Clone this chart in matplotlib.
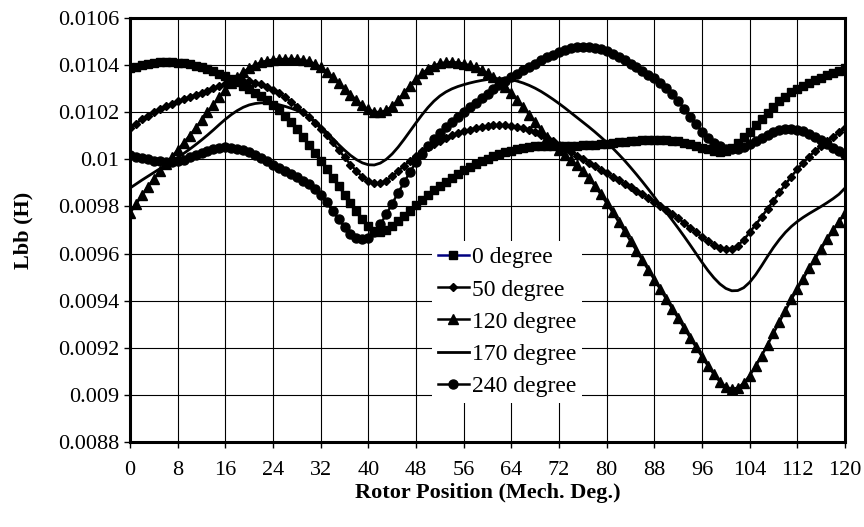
import numpy as np
import matplotlib.pyplot as plt

plt.rcParams['font.family'] = ['Liberation Serif', 'DejaVu Serif']

# rotor position, mechanical degrees (one sample per degree)
rotor_pos = list(range(0, 121))

# Lbb inductance in mH
lbb_0deg = [
    10.386, 10.393, 10.399, 10.405, 10.409, 10.412, 10.413, 10.413, 10.411, 10.408,
    10.403, 10.397, 10.390, 10.382, 10.373, 10.363, 10.352, 10.340, 10.327, 10.313,
    10.298, 10.283, 10.267, 10.250, 10.232, 10.210, 10.185, 10.157, 10.127, 10.096,
    10.063, 10.029, 9.994, 9.958, 9.922, 9.886, 9.850, 9.815, 9.780, 9.748,
    9.718, 9.696, 9.690, 9.700, 9.718, 9.738, 9.760, 9.782, 9.805, 9.827,
    9.848, 9.868, 9.887, 9.905, 9.922, 9.938, 9.953, 9.967, 9.980, 9.992,
    10.003, 10.013, 10.022, 10.030, 10.037, 10.043, 10.048, 10.052, 10.055, 10.057,
    10.058, 10.058, 10.058, 10.058, 10.058, 10.058, 10.059, 10.060, 10.062, 10.064,
    10.066, 10.069, 10.072, 10.075, 10.078, 10.080, 10.082, 10.083, 10.084, 10.084,
    10.083, 10.080, 10.076, 10.071, 10.065, 10.058, 10.050, 10.042, 10.036, 10.033,
    10.035, 10.050, 10.070, 10.093, 10.118, 10.145, 10.172, 10.198, 10.223, 10.246,
    10.266, 10.284, 10.300, 10.313, 10.325, 10.336, 10.346, 10.356, 10.366, 10.376,
    10.386]

lbb_50deg = [
    10.133, 10.152, 10.170, 10.186, 10.200, 10.213, 10.225, 10.236, 10.246, 10.256,
    10.265, 10.274, 10.283, 10.292, 10.301, 10.310, 10.318, 10.325, 10.330, 10.332,
    10.331, 10.326, 10.318, 10.308, 10.296, 10.281, 10.264, 10.245, 10.224, 10.201,
    10.180, 10.156, 10.130, 10.102, 10.072, 10.041, 10.009, 9.978, 9.950, 9.925,
    9.906, 9.898, 9.899, 9.910, 9.928, 9.950, 9.973, 9.995, 10.016, 10.035,
    10.052, 10.067, 10.080, 10.092, 10.102, 10.111, 10.119, 10.126, 10.132, 10.137,
    10.141, 10.144, 10.145, 10.145, 10.143, 10.139, 10.133, 10.125, 10.115, 10.103,
    10.090, 10.076, 10.061, 10.046, 10.031, 10.016, 10.001, 9.986, 9.971, 9.956,
    9.941, 9.926, 9.911, 9.896, 9.881, 9.866, 9.851, 9.836, 9.820, 9.804,
    9.787, 9.769, 9.750, 9.730, 9.710, 9.690, 9.670, 9.652, 9.637, 9.625,
    9.618, 9.620, 9.634, 9.658, 9.690, 9.722, 9.756, 9.790, 9.825, 9.860,
    9.894, 9.927, 9.958, 9.986, 10.012, 10.035, 10.056, 10.076, 10.095, 10.114,
    10.133]

lbb_120deg = [
    9.772, 9.810, 9.848, 9.884, 9.918, 9.950, 9.980, 10.010, 10.040, 10.070,
    10.101, 10.133, 10.166, 10.199, 10.232, 10.264, 10.295, 10.323, 10.348, 10.370,
    10.388, 10.402, 10.412, 10.419, 10.423, 10.425, 10.426, 10.426, 10.425, 10.422,
    10.416, 10.406, 10.391, 10.372, 10.350, 10.326, 10.300, 10.275, 10.251, 10.229,
    10.212, 10.202, 10.200, 10.208, 10.226, 10.252, 10.282, 10.313, 10.341, 10.365,
    10.384, 10.398, 10.407, 10.412, 10.413, 10.411, 10.406, 10.399, 10.390, 10.379,
    10.366, 10.350, 10.331, 10.308, 10.282, 10.253, 10.222, 10.190, 10.158, 10.126,
    10.095, 10.066, 10.040, 10.017, 9.996, 9.975, 9.950, 9.921, 9.888, 9.852,
    9.814, 9.775, 9.735, 9.694, 9.653, 9.612, 9.571, 9.530, 9.489, 9.448,
    9.407, 9.366, 9.325, 9.284, 9.243, 9.202, 9.162, 9.123, 9.087, 9.056,
    9.034, 9.025, 9.030, 9.050, 9.082, 9.122, 9.166, 9.212, 9.262, 9.310,
    9.358, 9.405, 9.450, 9.494, 9.537, 9.579, 9.620, 9.660, 9.699, 9.736,
    9.772]

lbb_170deg = [
    9.878, 9.895, 9.912, 9.928, 9.944, 9.960, 9.976, 9.992, 10.008, 10.025,
    10.043, 10.062, 10.082, 10.103, 10.125, 10.148, 10.170, 10.190, 10.207, 10.221,
    10.231, 10.237, 10.240, 10.240, 10.237, 10.232, 10.225, 10.217, 10.208, 10.197,
    10.182, 10.163, 10.140, 10.115, 10.089, 10.063, 10.039, 10.017, 9.999, 9.985,
    9.977, 9.976, 9.984, 10.000, 10.023, 10.052, 10.085, 10.120, 10.155, 10.189,
    10.220, 10.247, 10.269, 10.286, 10.299, 10.309, 10.317, 10.324, 10.330, 10.335,
    10.339, 10.342, 10.343, 10.342, 10.338, 10.332, 10.324, 10.314, 10.302, 10.288,
    10.272, 10.255, 10.237, 10.218, 10.198, 10.178, 10.158, 10.138, 10.117, 10.095,
    10.072, 10.048, 10.022, 9.995, 9.966, 9.936, 9.905, 9.873, 9.840, 9.806,
    9.775, 9.742, 9.708, 9.673, 9.637, 9.600, 9.563, 9.528, 9.497, 9.471,
    9.452, 9.442, 9.443, 9.455, 9.478, 9.510, 9.548, 9.588, 9.626, 9.660,
    9.690, 9.715, 9.736, 9.754, 9.770, 9.785, 9.800, 9.816, 9.833, 9.852,
    9.878]

lbb_240deg = [
    10.018, 10.012, 10.006, 10.000, 9.995, 9.992, 9.990, 9.990, 9.993, 9.999,
    10.008, 10.018, 10.028, 10.037, 10.044, 10.049, 10.051, 10.050, 10.046, 10.039,
    10.030, 10.019, 10.006, 9.992, 9.978, 9.964, 9.950, 9.937, 9.924, 9.910,
    9.894, 9.874, 9.848, 9.817, 9.782, 9.746, 9.712, 9.684, 9.666, 9.660,
    9.668, 9.690, 9.724, 9.766, 9.812, 9.858, 9.902, 9.947, 9.988, 10.024,
    10.057, 10.086, 10.112, 10.136, 10.158, 10.180, 10.201, 10.221, 10.241, 10.260,
    10.279, 10.298, 10.316, 10.333, 10.349, 10.364, 10.378, 10.392, 10.405, 10.420,
    10.433, 10.445, 10.456, 10.465, 10.472, 10.477, 10.479, 10.478, 10.474, 10.467,
    10.458, 10.447, 10.434, 10.420, 10.405, 10.390, 10.375, 10.360, 10.344, 10.326,
    10.304, 10.278, 10.248, 10.215, 10.181, 10.148, 10.118, 10.092, 10.071, 10.055,
    10.045, 10.042, 10.045, 10.053, 10.064, 10.077, 10.091, 10.104, 10.115, 10.123,
    10.128, 10.129, 10.126, 10.119, 10.109, 10.096, 10.081, 10.066, 10.050, 10.034,
    10.018]

x_ticks = list(range(0, 121, 8))
y_ticks = [0.0088, 0.009, 0.0092, 0.0094, 0.0096, 0.0098, 0.01,
           0.0102, 0.0104, 0.0106]
y_ticklabels = ['0.0088', '0.009', '0.0092', '0.0094', '0.0096', '0.0098',
                '0.01', '0.0102', '0.0104', '0.0106']

x = np.array(rotor_pos)
mh = 1e-3

fig = plt.figure(figsize=(8.64, 5.27), dpi=100)
ax = fig.add_axes([0.1505, 0.1613, 0.8275, 0.8045])

ax.plot(x, np.array(lbb_0deg) * mh, color='#000080', lw=1.8, marker='s',
        ms=5.5, mfc='black', mec='black', label='0 degree')
ax.plot(x, np.array(lbb_50deg) * mh, color='black', lw=1.8, marker='D',
        ms=4.3, label='50 degree')
ax.plot(x, np.array(lbb_120deg) * mh, color='black', lw=1.8, marker='^',
        ms=6.5, label='120 degree')
ax.plot(x, np.array(lbb_170deg) * mh, color='black', lw=2.0,
        label='170 degree')
ax.plot(x, np.array(lbb_240deg) * mh, color='black', lw=1.8, marker='o',
        ms=6.5, label='240 degree')

ax.set_xlim(0, 120)
ax.set_ylim(0.0088, 0.0106)
ax.set_xticks(x_ticks)
ax.set_yticks(y_ticks)
ax.set_yticklabels(y_ticklabels)
ax.grid(True, color='black', lw=0.8)
ax.set_axisbelow(True)
ax.tick_params(axis='both', labelsize=16, direction='out', length=4,
               width=1, color='black')
ax.tick_params(axis='x', pad=10)
for s in ax.spines.values():
    s.set_linewidth(2.2)

ax.set_xlabel('Rotor Position (Mech. Deg.)', fontsize=16, fontweight='bold',
              labelpad=2)
ax.set_ylabel('Lbb (H)', fontsize=16, fontweight='bold', labelpad=18)

leg = ax.legend(loc='upper left', bbox_to_anchor=(432 / 864, 1 - 241 / 527),
                bbox_transform=fig.transFigure, fontsize=17, frameon=True,
                fancybox=False, edgecolor='none', framealpha=1,
                handlelength=1.3, handletextpad=0.15, labelspacing=0.45,
                borderpad=0.25, borderaxespad=0)

fig.savefig('out.png', dpi=100)
